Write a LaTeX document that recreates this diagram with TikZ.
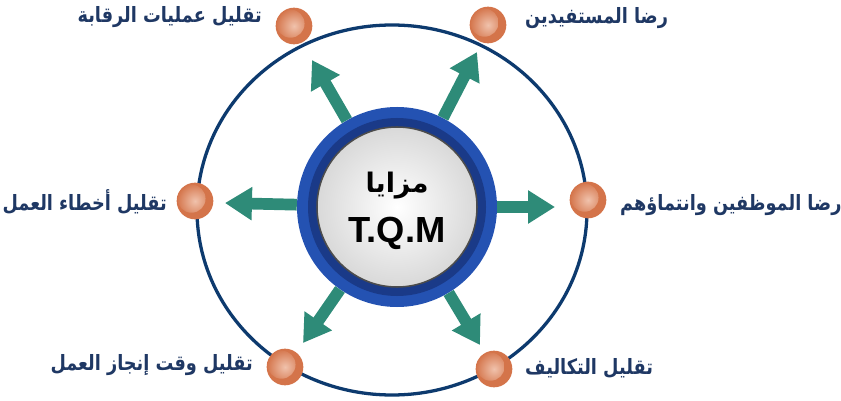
\documentclass[tikz,border=0pt]{standalone}
\usepackage{fontspec}
\setmainfont{Liberation Sans}
\newfontfamily\arabicfont[Script=Arabic]{DejaVu Sans}
\TeXXeTstate=1
\usetikzlibrary{arrows.meta}

\definecolor{navyline}{HTML}{0D3A6E}
\definecolor{labelblue}{HTML}{1F3864}
\definecolor{tealarrow}{HTML}{2E8B78}
\definecolor{ringblue}{HTML}{2452B2}
\definecolor{ringdark}{HTML}{1A3A88}
\definecolor{ballorange}{HTML}{D4744A}
\definecolor{ballhi}{HTML}{F0C2AC}

\tikzset{
    ball/.style={circle, minimum size=1.1cm, inner sep=0pt, fill=ballorange,
        path picture={\shade[inner color=ballhi, outer color=ballorange]
            ([xshift=-3pt, yshift=2pt]path picture bounding box.center) circle (12pt);}},
    lbl/.style={inner sep=0pt, text=labelblue, xscale=0.84, transform shape,
        font=\arabicfont\bfseries\fontsize{18}{21}\selectfont},
    outarrow/.style={draw=tealarrow, line width=10pt, -{Triangle[width=27pt, length=23pt]}}
}

\begin{document}
\begin{tikzpicture}[x=0.03cm, y=-0.03cm]
            \useasboundingbox (0,0) rectangle (841,401);

            \draw[navyline, line width=2.8pt] (392,210) ellipse [x radius=195, y radius=185];

            \node[circle, minimum size=6cm, fill=ringblue] (hub) at (397,207) {};
            \fill[ringdark] (hub.center) circle [radius=89];
            \shade[inner color=white, outer color=gray!30, draw=black!70, line width=1.3pt] (hub.center) circle [radius=80];
            \node[inner sep=0pt, font=\arabicfont\bfseries\fontsize{23}{26}\selectfont] (word) at (397,186) {\beginR مزايا\endR};
            \node[inner sep=0pt, font=\bfseries\fontsize{31}{34}\selectfont] (tqm) at (397,233) {T.Q.M};

            \coordinate (tR) at (555,207);
            \coordinate (tL) at (225,203);
            \coordinate (tTL) at (312,60);
            \coordinate (tTR) at (477,52);
            \coordinate (tBL) at (303,343);
            \coordinate (tBR) at (480,345);

            \draw[outarrow] (hub) -- (tR); % right
            \draw[outarrow] (hub) -- (tL); % left
            \draw[outarrow] (hub) -- (tTL); % top left
            \draw[outarrow] (hub) -- (tTR); % top right
            \draw[outarrow] (hub) -- (tBL); % bottom left
            \draw[outarrow] (hub) -- (tBR); % bottom right

            \node[ball] (bTL) at (294,26) {};
            \node[lbl, anchor=east] (lTL) at (262,17) {\beginR تقليل عمليات الرقابة\endR};
            \node[ball] (bTR) at (488,25) {};
            \node[lbl, anchor=west] (lTR) at (525,18) {\beginR رضا المستفيدين\endR};
            \node[ball] (bL) at (195,201) {};
            \node[lbl, anchor=east] (lL) at (167,202) {\beginR تقليل أخطاء العمل\endR};
            \node[ball] (bR) at (588,200) {};
            \node[lbl, anchor=west] (lR) at (620,205) {\beginR رضا الموظفين وانتماؤهم\endR};
            \node[ball] (bBL) at (285,367) {};
            \node[lbl, anchor=east] (lBL) at (253,365) {\beginR تقليل وقت إنجاز العمل\endR};
            \node[ball] (bBR) at (494,369) {};
            \node[lbl, anchor=west] (lBR) at (525,368) {\beginR تقليل التكاليف\endR};
        \end{tikzpicture}
\end{document}
